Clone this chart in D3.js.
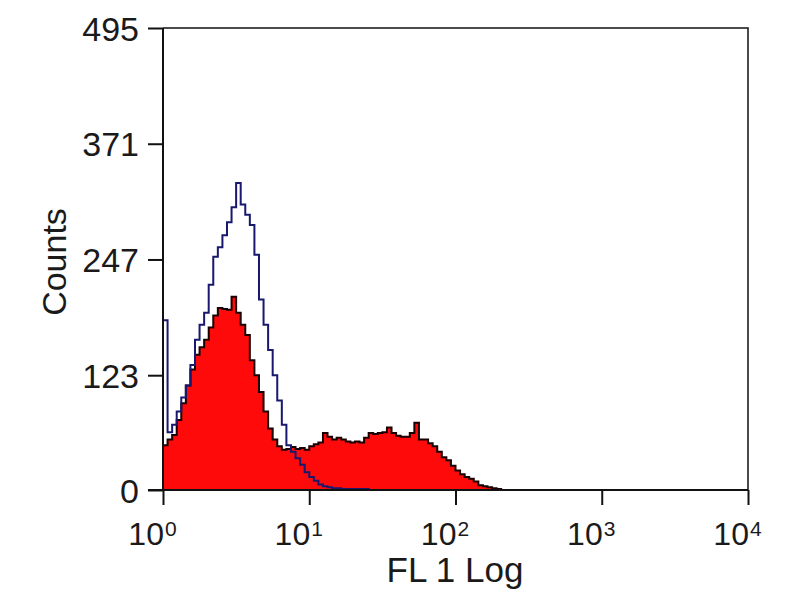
<!DOCTYPE html>
<html>
<head>
<meta charset="utf-8">
<script src="https://cdn.jsdelivr.net/npm/d3@7"></script>
<style>
  body { margin: 0; background: #fff; }
  text { font-family: "Liberation Sans", Arial, sans-serif; fill: #1a1a1a; }
</style>
</head>
<body>
<div id="chart"></div>
<script>
// 128 log channels over 4 decades, counts per channel
var nChannels = 128;
var decades = 4;
var stainedCounts = [
  48, 54, 59, 75, 93, 112, 129, 145, 153, 161, 174, 187, 195, 194, 193, 207,
  190, 177, 166, 139, 123, 105, 84, 66, 54, 47, 43, 44, 46, 44, 45, 43,
  47, 49, 51, 61, 57, 54, 56, 54, 52, 51, 52, 51, 56, 61, 60, 61,
  62, 67, 61, 58, 57, 57, 61, 72, 54, 54, 50, 47, 41, 35, 32, 26,
  21, 17, 14, 12, 9, 5, 4, 3, 2, 1
];
var controlCounts = [
  182, 62, 70, 84, 99, 112, 134, 161, 177, 190, 220, 250, 260, 273, 287, 303,
  329, 306, 295, 284, 252, 204, 177, 150, 123, 96, 70, 48, 41, 34, 27, 19,
  14, 10, 6, 4, 3, 2, 2, 1, 1, 1, 1, 1, 1
];
var yTicks = [0, 123, 247, 371, 495];
var xTicks = [0, 1, 2, 3, 4];

var margin = {top: 28, right: 52, bottom: 110, left: 163},
    width = 800 - margin.left - margin.right,
    height = 600 - margin.top - margin.bottom;

var root = d3.select("#chart")
  .append("svg")
    .attr("width", 800)
    .attr("height", 600);
var svg = root.append("g")
    .attr("transform", "translate(" + margin.left + "," + margin.top + ")");

var x = d3.scaleLog()
    .domain([1, Math.pow(10, decades)])
    .range([0, width]);
var y = d3.scaleLinear()
    .domain([0, 495])
    .range([height, 0]);

// turn channel counts into step points (left edge of each channel)
function steps(counts) {
  var pts = counts.map(function(c, i) {
    return { v: Math.pow(10, i * decades / nChannels), c: c };
  });
  pts.push({ v: Math.pow(10, counts.length * decades / nChannels), c: 0 });
  return pts;
}

var area = d3.area()
    .curve(d3.curveStepAfter)
    .x(function(d) { return x(d.v); })
    .y0(height)
    .y1(function(d) { return y(d.c); });
var line = d3.line()
    .curve(d3.curveStepAfter)
    .x(function(d) { return x(d.v); })
    .y(function(d) { return y(d.c); });

// red filled histogram
svg.append("path")
  .datum(steps(stainedCounts))
  .attr("fill", "#ff0a0a")
  .attr("stroke", "#1a0000")
  .attr("stroke-width", 2)
  .attr("d", area);

// control histogram outline
svg.append("path")
  .datum(steps(controlCounts))
  .attr("fill", "none")
  .attr("stroke", "#18186e")
  .attr("stroke-width", 2)
  .attr("d", line);

// frame
svg.append("path")
  .attr("fill", "none")
  .attr("stroke", "#111")
  .attr("stroke-width", 1.5)
  .attr("d", "M0,0H" + width + "V" + height);

// Y axis
var yAxis = svg.append("g")
  .call(d3.axisLeft(y).tickValues(yTicks).tickSize(15).tickPadding(9));
yAxis.selectAll("text")
  .style("font-size", "34px")
  .style("font-family", "Liberation Sans, Arial, sans-serif")
  .attr("fill", "#1a1a1a")
  .attr("dy", "0.36em");
yAxis.selectAll("line, path").attr("stroke", "#111").attr("stroke-width", 2);
yAxis.select(".domain").attr("d", "M0,0V" + height);

// X axis with power-of-ten labels
var xAxis = svg.append("g")
  .attr("transform", "translate(0," + height + ")")
  .call(d3.axisBottom(x).tickValues(xTicks.map(function(p) { return Math.pow(10, p); }))
        .tickSize(15).tickFormat(""));
xAxis.selectAll("line, path").attr("stroke", "#111").attr("stroke-width", 2);
xAxis.select(".domain").attr("d", "M-15,0H" + width);

xAxis.selectAll(".tick").each(function(d, i) {
  var t = d3.select(this).append("text")
    .attr("y", 55)
    .attr("x", -11)
    .attr("text-anchor", "middle")
    .style("font-size", "32px");
  t.append("tspan").text("10");
  t.append("tspan").attr("dy", "-0.42em").attr("dx", "1").style("font-size", "21px").text(xTicks[i]);
});

// axis titles
root.append("text")
  .attr("transform", "translate(66,262) rotate(-90)")
  .attr("text-anchor", "middle")
  .style("font-size", "34px")
  .text("Counts");

root.append("text")
  .attr("x", 455)
  .attr("y", 582)
  .attr("text-anchor", "middle")
  .style("font-size", "35px")
  .text("FL 1 Log");
</script>
</body>
</html>
